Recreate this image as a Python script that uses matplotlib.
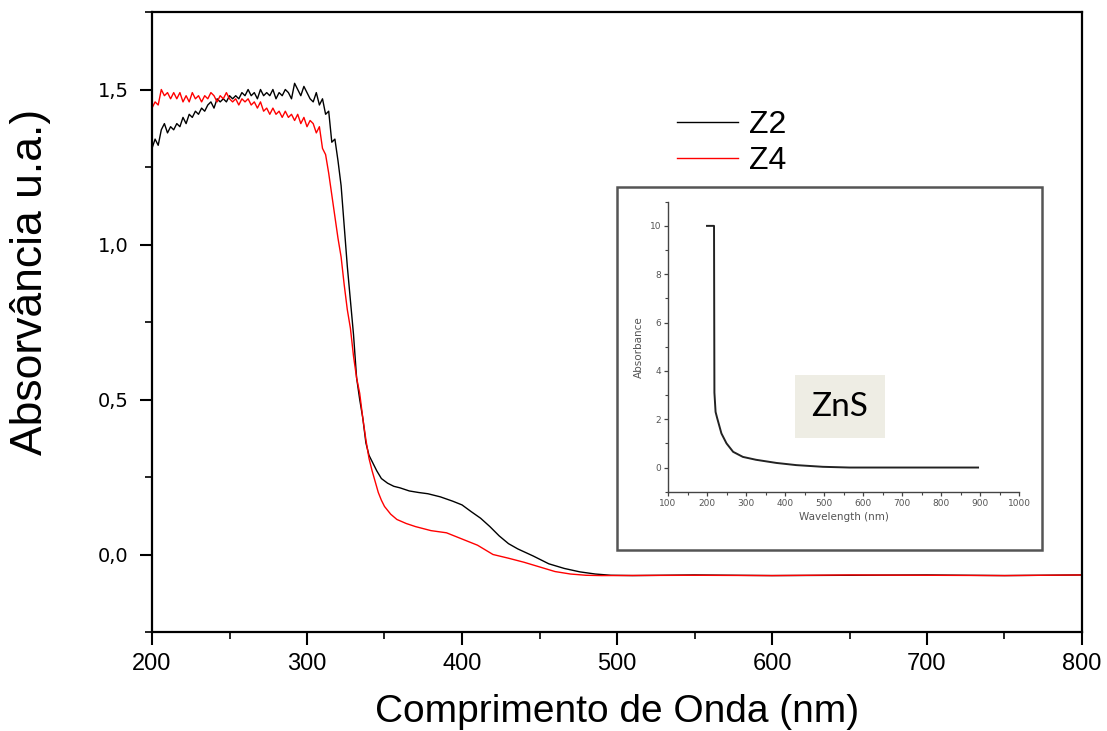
import matplotlib
matplotlib.use("Agg")
import matplotlib.pyplot as plt
from matplotlib.patches import Rectangle
from matplotlib.ticker import MultipleLocator

# ---------------- data ----------------
z2_wl = [200, 202, 204, 206, 208, 210, 212, 214, 216, 218, 220, 222, 224, 226, 228, 230,
         232, 234, 236, 238, 240, 242, 244, 246, 248, 250, 252, 254, 256, 258, 260, 262,
         264, 266, 268, 270, 272, 274, 276, 278, 280, 282, 284, 286, 288, 290, 292, 294,
         296, 298, 300, 302, 304, 306, 308, 310, 312, 314, 316, 318, 320, 322, 324, 326,
         328, 330, 332, 334, 336, 338, 340, 342, 345, 348, 352, 356, 360, 366, 372, 378,
         386, 394, 400, 406, 412, 418, 424, 430, 436, 446, 456, 466, 476, 486, 496, 510,
         550, 600, 650, 700, 750, 800]
z2_abs = [1.31, 1.34, 1.32, 1.37, 1.39, 1.36, 1.38, 1.37, 1.39, 1.38, 1.41, 1.39, 1.42, 1.41, 1.43, 1.42,
          1.44, 1.43, 1.45, 1.46, 1.44, 1.47, 1.46, 1.47, 1.46, 1.48, 1.47, 1.48, 1.47, 1.49, 1.48, 1.50,
          1.48, 1.49, 1.47, 1.50, 1.48, 1.49, 1.48, 1.50, 1.47, 1.49, 1.48, 1.50, 1.49, 1.47, 1.52, 1.50,
          1.48, 1.51, 1.49, 1.47, 1.46, 1.49, 1.45, 1.47, 1.42, 1.43, 1.33, 1.34, 1.27, 1.19, 1.06, 0.93,
          0.82, 0.71, 0.57, 0.50, 0.44, 0.36, 0.32, 0.30, 0.27, 0.245, 0.23, 0.22, 0.215, 0.205, 0.20, 0.196,
          0.186, 0.172, 0.16, 0.138, 0.117, 0.09, 0.06, 0.035, 0.018, -0.005, -0.03, -0.045, -0.056, -0.063, -0.067, -0.068,
          -0.066, -0.068, -0.067, -0.066, -0.068, -0.066]

z4_wl = [200, 202, 204, 206, 208, 210, 212, 214, 216, 218, 220, 222, 224, 226, 228, 230,
         232, 234, 236, 238, 240, 242, 244, 246, 248, 250, 252, 254, 256, 258, 260, 262,
         264, 266, 268, 270, 272, 274, 276, 278, 280, 282, 284, 286, 288, 290, 292, 294,
         296, 298, 300, 302, 304, 306, 308, 310, 312, 314, 316, 318, 320, 322, 324, 326,
         328, 330, 332, 334, 336, 338, 340, 342, 344, 346, 348, 350, 354, 358, 364, 370,
         380, 390, 400, 410, 420, 430, 440, 450, 460, 470, 480, 490, 550, 600, 650, 700,
         750, 800]
z4_abs = [1.44, 1.46, 1.45, 1.50, 1.48, 1.49, 1.47, 1.49, 1.47, 1.49, 1.46, 1.48, 1.46, 1.49, 1.47, 1.48,
          1.46, 1.48, 1.47, 1.49, 1.48, 1.46, 1.48, 1.47, 1.49, 1.47, 1.46, 1.47, 1.45, 1.47, 1.46, 1.47,
          1.45, 1.46, 1.44, 1.46, 1.43, 1.44, 1.42, 1.44, 1.42, 1.43, 1.41, 1.43, 1.41, 1.42, 1.40, 1.42,
          1.39, 1.41, 1.38, 1.40, 1.39, 1.36, 1.38, 1.31, 1.29, 1.23, 1.16, 1.09, 1.02, 0.96, 0.87, 0.79,
          0.73, 0.64, 0.57, 0.52, 0.44, 0.37, 0.31, 0.27, 0.235, 0.20, 0.175, 0.155, 0.13, 0.113, 0.10, 0.09,
          0.077, 0.07, 0.05, 0.03, 0.0, -0.012, -0.025, -0.04, -0.055, -0.063, -0.067, -0.068, -0.067, -0.068, -0.066, -0.067,
          -0.068, -0.066]

series_labels = ["Z2", "Z4"]
yticks = [0.0, 0.5, 1.0, 1.5]
ytick_labels = ["0,0", "0,5", "1,0", "1,5"]
xticks = [200, 300, 400, 500, 600, 700, 800]

inset_wl = [200, 218, 219, 222, 226, 237, 250, 267, 292, 326, 378, 429, 497, 565, 650, 720, 800, 895]
inset_abs = [10, 10, 3.1, 2.3, 2.05, 1.41, 1.0, 0.65, 0.44, 0.32, 0.19, 0.10, 0.03, 0.0, 0.0, 0.0, 0.0, 0.0]
inset_label = "ZnS"

# ---------------- figure ----------------
W, H = 1107, 731
fig = plt.figure(figsize=(W / 100, H / 100), dpi=100)
fig.patch.set_facecolor("white")

def fx(px):
    return px / W

def fy(py):
    return 1 - py / H

AX_L, AX_R, AX_T, AX_B = 152, 1082, 12, 632
ax = fig.add_axes([fx(AX_L), fy(AX_B), fx(AX_R) - fx(AX_L), fy(AX_T) - fy(AX_B)])
ax.plot(z2_wl, z2_abs, color="black", lw=1.0, label=series_labels[0])
ax.plot(z4_wl, z4_abs, color="red", lw=1.0, label=series_labels[1])
ax.set_xlim(200, 800)
ax.set_ylim(-0.25, 1.75)
ax.set_xticks(xticks)
ax.xaxis.set_minor_locator(MultipleLocator(50))
ax.set_yticks(yticks)
ax.set_yticklabels(ytick_labels)
ax.yaxis.set_minor_locator(MultipleLocator(0.25))
for s in ax.spines.values():
    s.set_linewidth(1.6)
ax.tick_params(which="major", direction="out", length=9, width=1.5)
ax.tick_params(which="minor", direction="out", length=5, width=1.2)
ax.tick_params(axis="x", which="both", top=False, pad=6)
ax.tick_params(axis="y", which="both", right=False, pad=8)
for t in ax.get_xticklabels():
    t.set_family("Liberation Sans")
    t.set_fontsize(17)
for t in ax.get_yticklabels():
    t.set_family("DejaVu Sans")
    t.set_fontsize(14)

ax.set_xlabel("Comprimento de Onda (nm)", fontsize=28, family="Liberation Sans")
ax.xaxis.label.set_va("baseline")
ax.xaxis.set_label_coords(0.5, (AX_B - 722) / (AX_B - AX_T))
ax.set_ylabel("Absorvância u.a.)", fontsize=32, family="Liberation Sans")
ax.yaxis.set_label_coords((51 - AX_L) / (AX_R - AX_L), (AX_B - 282) / (AX_B - AX_T))

leg = ax.legend(loc="upper left", bbox_to_anchor=(fx(677), fy(110)), bbox_transform=fig.transFigure,
                frameon=False, handlelength=1.9, handletextpad=0.35,
                labelspacing=0.2, borderpad=0, borderaxespad=0,
                prop={"family": "Liberation Sans", "size": 23})

# ---------------- inset ----------------
frame = Rectangle((fx(617), fy(550)), fx(1042) - fx(617), fy(187) - fy(550), transform=fig.transFigure,
                  facecolor="white", edgecolor="#555555", lw=1.8, zorder=3)
fig.patches.append(frame)

iax = fig.add_axes([fx(668), fy(491.7), fx(1019) - fx(668), fy(201.7) - fy(491.7)], zorder=4)
iax.patch.set_alpha(0)
iax.plot(inset_wl, inset_abs, color="#222222", lw=1.4)
iax.set_xlim(100, 1000)
iax.set_ylim(-1, 11)
iax.set_xticks(range(100, 1001, 100))
iax.xaxis.set_minor_locator(MultipleLocator(50))
iax.set_yticks(range(0, 11, 2))
iax.yaxis.set_minor_locator(MultipleLocator(1))
iax.spines["top"].set_visible(False)
iax.spines["right"].set_visible(False)
for s in ("left", "bottom"):
    iax.spines[s].set_color("#444444")
    iax.spines[s].set_linewidth(1.0)
iax.tick_params(which="major", direction="out", length=3, width=0.9, colors="#444444",
                labelsize=6.5, labelcolor="#555555", pad=2)
iax.tick_params(which="minor", direction="out", length=2, width=0.8, colors="#444444")
iax.set_xlabel("Wavelength (nm)", fontsize=7.5, color="#555555", labelpad=3)
iax.set_ylabel("Absorbance", fontsize=7.5, color="#555555", labelpad=4)

iax.add_patch(Rectangle((425, 1.22), 231, 2.6, facecolor="#eeede4", edgecolor="none", zorder=1))
iax.text(540, 2.52, inset_label, ha="center", va="center", fontsize=24, family="Lato", color="black", zorder=2)

fig.savefig("out.png", dpi=100)
